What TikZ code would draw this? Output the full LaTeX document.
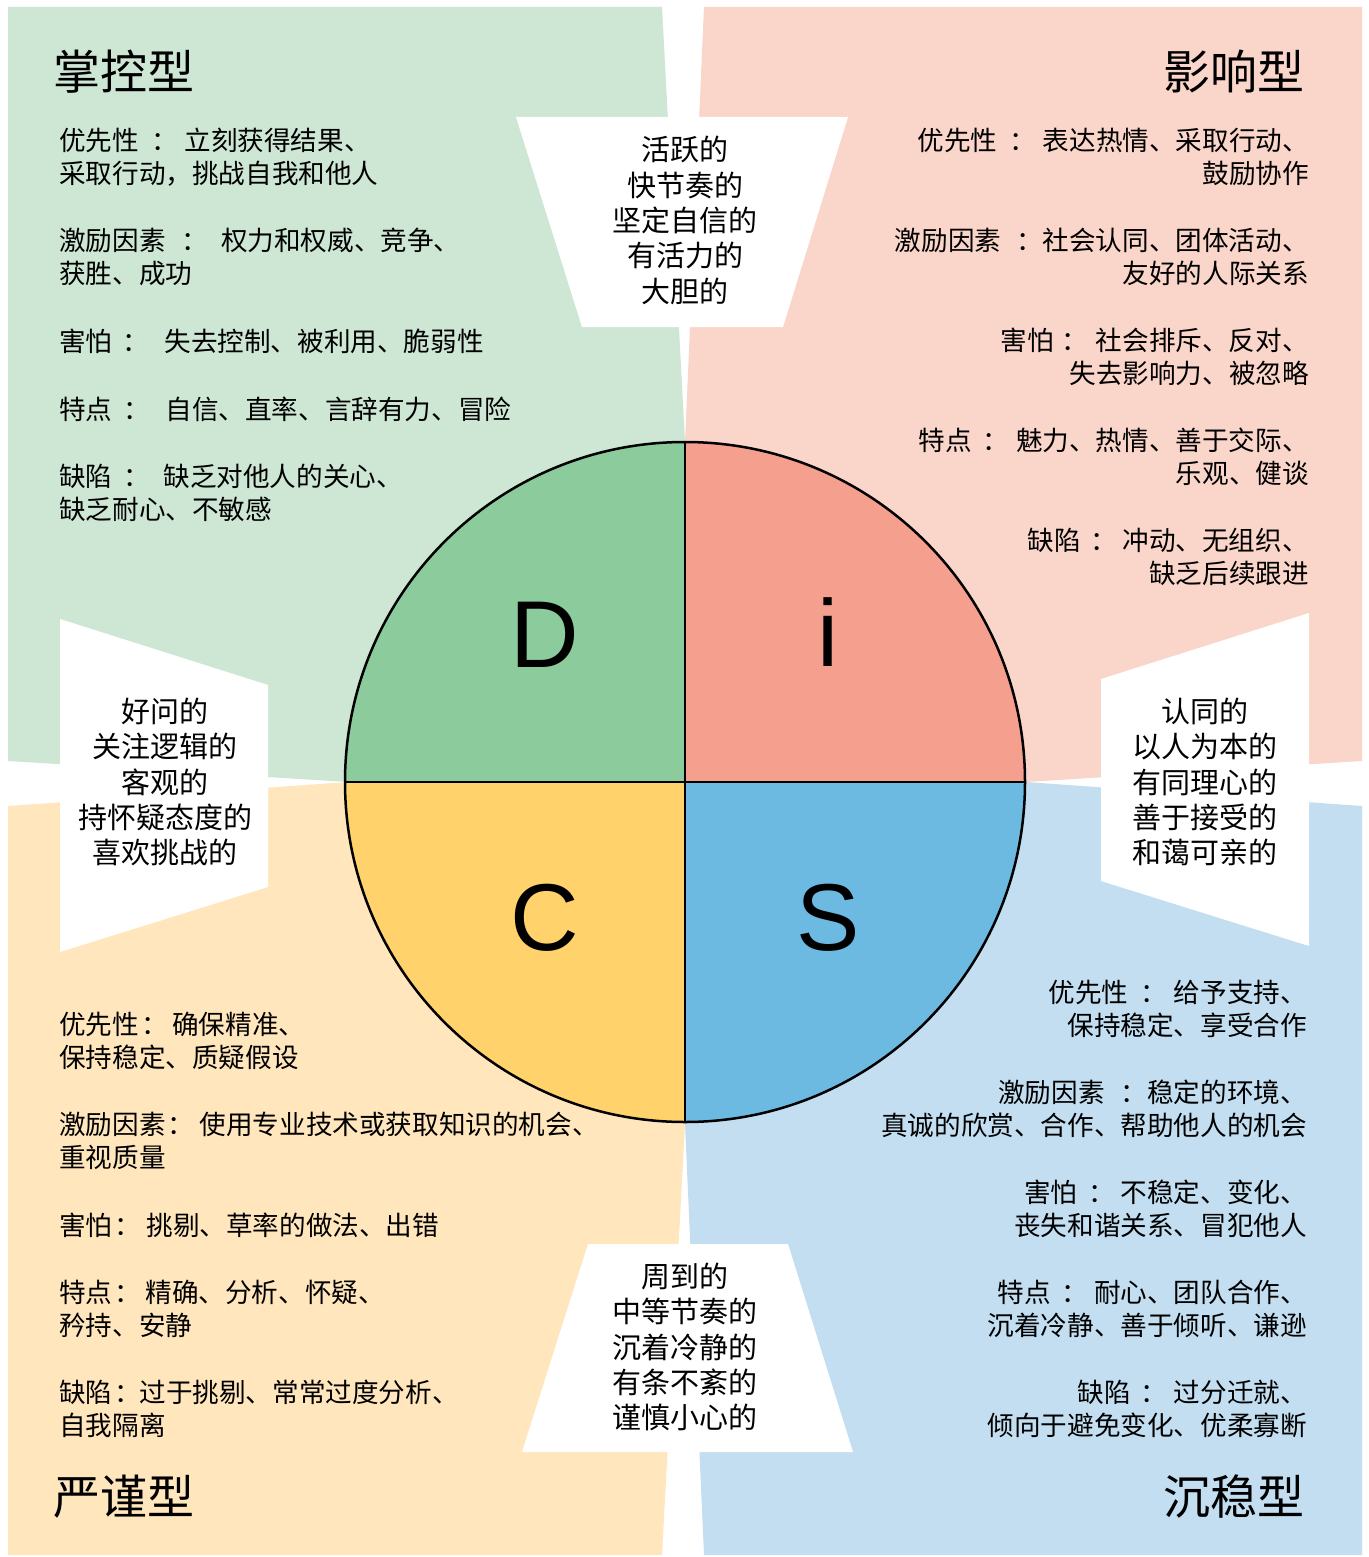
\documentclass[tikz,border=0pt]{standalone}
\usepackage{fontspec}
\setmainfont{Liberation Sans}
\newfontfamily\cjk{Noto Sans CJK SC}
\newcommand\mycol[2]{\hspace{#1pt}：\hspace{#2pt}}
\definecolor{lgreen}{HTML}{CDE7D4}
\definecolor{lpink}{HTML}{FAD5C9}
\definecolor{lyellow}{HTML}{FFE6BD}
\definecolor{lblue}{HTML}{C2DEF0}
\definecolor{mgreen}{HTML}{8CCB9B}
\definecolor{mpink}{HTML}{F59F8F}
\definecolor{myellow}{HTML}{FFD26B}
\definecolor{mblue}{HTML}{6CB9E2}
\tikzset{
  body/.style={font=\cjk\fontsize{26.6}{32.5}\selectfont, inner sep=0pt, text=black},
  bl/.style={body, anchor=west, align=left},
  br/.style={body, anchor=east, align=right},
  traptext/.style={font=\cjk\fontsize{29}{35.3}\selectfont, inner sep=0pt, align=center},
  ttl/.style={font=\cjk\fontsize{47}{50}\selectfont, inner sep=0pt},
  letter/.style={font=\fontsize{95}{100}\selectfont, inner sep=0pt},
  trapfill/.style={fill=white}
}
\begin{document}
\begin{tikzpicture}[x=1pt,y=-1pt]
\useasboundingbox (0,0) rectangle (1368,1557);
\fill[white] (0,0) rectangle (1368,1557);
\coordinate (O) at (685,782);
% background quadrants
\fill[lgreen] (8,7) -- (662,7) -- (685,442) -- (O) -- (348,782) -- (8,761) -- cycle;
\fill[lpink] (704,7) -- (1362,7) -- (1362,761) -- (1026,782) -- (O) -- (685,442) -- cycle;
\fill[lyellow] (8,806) -- (348,782) -- (O) -- (685,1124) -- (662,1555) -- (8,1555) -- cycle;
\fill[lblue] (1362,806) -- (1026,782) -- (O) -- (685,1124) -- (704,1555) -- (1362,1555) -- cycle;
% trapezoids
\fill[trapfill] (516,117) -- (848,117) -- (783,327) -- (582,327) -- cycle;
\fill[trapfill] (588,1244) -- (788,1244) -- (853,1452) -- (522,1452) -- cycle;
\fill[trapfill] (60,619) -- (268,685) -- (268,887) -- (60,952) -- cycle;
\fill[trapfill] (1101,679) -- (1309,613) -- (1309,946) -- (1101,881) -- cycle;
% circle
\fill[mgreen] (O) -- ++(-340,0) arc[start angle=180,end angle=270,radius=340] -- cycle;
\fill[mpink] (O) -- ++(0,-340) arc[start angle=270,end angle=360,radius=340] -- cycle;
\fill[mblue] (O) -- ++(340,0) arc[start angle=0,end angle=90,radius=340] -- cycle;
\fill[myellow] (O) -- ++(0,340) arc[start angle=90,end angle=180,radius=340] -- cycle;
\coordinate (cl) at (345,782);
\coordinate (cr) at (1025,782);
\coordinate (ct) at (685,442);
\coordinate (cb) at (685,1122);
\draw[line width=2pt] (cl) -- (cr);
\draw[line width=2pt] (ct) -- (cb);
\draw[line width=2.5pt] (O) circle[radius=340];
% letters
\node[letter] (lD) at (545,635) {D};
\node[letter] (li) at (828,632) {i};
\node[letter] (lC) at (545,918) {C};
\node[letter] (lS) at (828,918) {S};
% titles
\node[ttl, anchor=west] (tD) at (53,72) {掌控型};
\node[ttl, anchor=east] (ti) at (1305,72) {影响型};
\node[ttl, anchor=west] (tC) at (53,1497) {严谨型};
\node[ttl, anchor=east] (tS) at (1305,1497) {沉稳型};
% trapezoid texts
\node[traptext] (qT) at (685,220.5) {活跃的\\快节奏的\\坚定自信的\\有活力的\\大胆的};
\node[traptext] (qL) at (165,782) {好问的\\关注逻辑的\\客观的\\持怀疑态度的\\喜欢挑战的};
\node[traptext] (qR) at (1205,782) {认同的\\以人为本的\\有同理心的\\善于接受的\\和蔼可亲的};
\node[traptext] (qB) at (685,1347) {周到的\\中等节奏的\\沉着冷静的\\有条不紊的\\谨慎小心的};
% green block
\node[bl] (g1) at (59,157) {优先性\mycol{12.5}{6.5}立刻获得结果、\\采取行动，挑战自我和他人};
\node[bl] (g2) at (59,257) {激励因素\mycol{16}{13}权力和权威、竞争、\\获胜、成功};
\node[bl] (g3) at (59,341) {害怕\mycol{10.5}{15}失去控制、被利用、脆弱性};
\node[bl] (g4) at (59,409) {特点\mycol{11}{15.5}自信、直率、言辞有力、冒险};
\node[bl] (g5) at (59,493) {缺陷\mycol{11}{13.5}缺乏对他人的关心、\\缺乏耐心、不敏感};
% pink block
\node[br] (p1) at (1309,157) {优先性\mycol{12}{6.7}表达热情、采取行动、\\鼓励协作};
\node[br] (p2) at (1309,257) {激励因素\mycol{15}{0}社会认同、团体活动、\\友好的人际关系};
\node[br] (p3) at (1309,357) {害怕\mycol{8}{7.5}社会排斥、反对、\\失去影响力、被忽略};
\node[br] (p4) at (1309,457) {特点\mycol{10}{7.5}魅力、热情、善于交际、\\乐观、健谈};
\node[br] (p5) at (1309,557) {缺陷\mycol{9}{6}冲动、无组织、\\缺乏后续跟进};
% yellow block
\node[bl] (o1) at (59,1041) {优先性\mycol{3}{3.7}确保精准、\\保持稳定、质疑假设};
\node[bl] (o2) at (59,1141) {激励因素\mycol{1.5}{6}使用专业技术或获取知识的机会、\\重视质量};
\node[bl] (o3) at (59,1225) {害怕\mycol{2.5}{5}挑剔、草率的做法、出错};
\node[bl] (o4) at (59,1309) {特点\mycol{2.5}{4}精确、分析、怀疑、\\矜持、安静};
\node[bl] (o5) at (59,1409) {缺陷\mycol{2.5}{-2}过于挑剔、常常过度分析、\\自我隔离};
% blue block
\node[br] (b1) at (1307,1009) {优先性\mycol{12}{7}给予支持、\\保持稳定、享受合作};
\node[br] (b2) at (1307,1109) {激励因素\mycol{16}{0}稳定的环境、\\真诚的欣赏、合作、帮助他人的机会};
\node[br] (b3) at (1307,1209) {害怕\mycol{11}{5.5}不稳定、变化、\\丧失和谐关系、冒犯他人};
\node[br] (b4) at (1307,1309) {特点\mycol{11}{5.5}耐心、团队合作、\\沉着冷静、善于倾听、谦逊};
\node[br] (b5) at (1307,1409) {缺陷\mycol{10}{6.5}过分迁就、\\倾向于避免变化、优柔寡断};
\end{tikzpicture}
\end{document}
